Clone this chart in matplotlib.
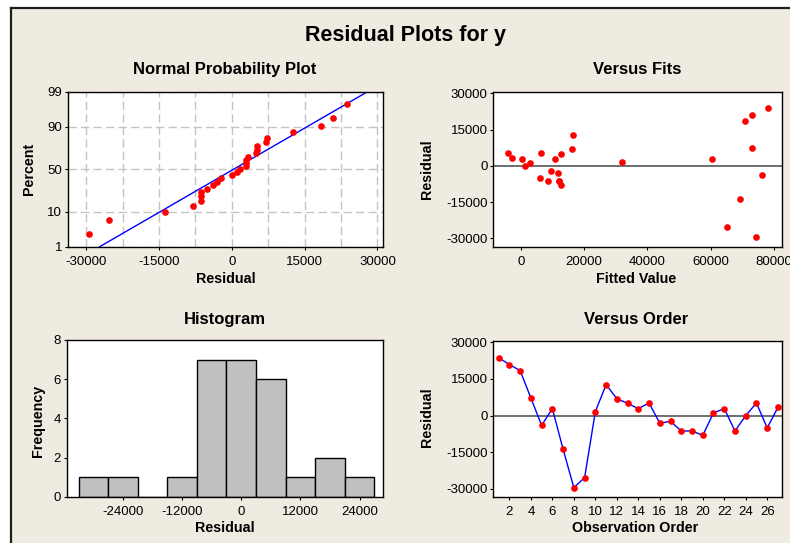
import matplotlib
matplotlib.use('Agg')
import numpy as np
import matplotlib.pyplot as plt
from matplotlib.patches import Rectangle
from matplotlib.lines import Line2D
from statistics import NormalDist

# residuals in observation order
residuals = [23727, 20900, 18409, 7200, -3955, 2864, -13773, -29454, -25364, 1636,
             12682, 6955, 5045, 2864, 5182, -3100, -2318, -6273, -6273, -8045,
             1091, 2900, -6273, 0, 5182, -5045, 3409]
# fitted values for the same observations (Versus Fits panel)
fits = [78000, 73150, 70850, 73150, 76100, 60500, 69250, 74400, 65150, 31900,
        16500, 16100, 12650, 10950, 6400, 11800, 9600, 8650, 12000, 12650,
        3050, 400, 12250, 1350, -3900, 6000, -2650]
order = list(range(1, len(residuals) + 1))

hist_edges = [-33000, -27000, -21000, -15000, -9000, -3000, 3000, 9000, 15000, 21000, 27000]
pct_ticks = [1, 10, 50, 90, 99]
prob_xticks = [-30000, -15000, 0, 15000, 30000]
prob_xgrid = [-30000, -22500, -15000, -7500, 0, 7500, 15000, 22500, 30000]
res_yticks = [-30000, -15000, 0, 15000, 30000]
fit_xticks = [0, 20000, 40000, 60000, 80000]
hist_xticks = [-24000, -12000, 0, 12000, 24000]
hist_yticks = [0, 2, 4, 6, 8]
order_xticks = [2, 4, 6, 8, 10, 12, 14, 16, 18, 20, 22, 24, 26]

plt.rcParams['font.family'] = ['Liberation Sans', 'DejaVu Sans']
plt.rcParams['axes.unicode_minus'] = False

W, H = 790, 543
fig = plt.figure(figsize=(W / 100, H / 100), dpi=100)
fig.patch.set_facecolor('white')

# beige minitab panel with dark top/left border
top = 1 - 7.5 / H
fig.add_artist(Rectangle((11 / W, 0), 1, top, transform=fig.transFigure,
                         facecolor='#EFEBE1', edgecolor='none', zorder=-10))
fig.add_artist(Line2D([11 / W, 1], [top, top], color='#1e1e1e', lw=1.6, transform=fig.transFigure))
fig.add_artist(Line2D([11 / W, 11 / W], [0, top], color='#1e1e1e', lw=1.6, transform=fig.transFigure))


def px_axes(l, r, t, b):
    ax = fig.add_axes([l / W, 1 - b / H, (r - l) / W, (b - t) / H])
    ax.set_facecolor('white')
    for s in ax.spines.values():
        s.set_linewidth(1.0)
        s.set_color('black')
    ax.tick_params(direction='out', length=2.5, width=0.8, labelsize=9.5,
                   top=False, right=False, colors='black')
    ax.tick_params(axis='x', pad=4)
    ax.tick_params(axis='y', pad=1.5)
    return ax


def ftext(x, y, s, **kw):
    fig.text(x / W, 1 - y / H, s, **kw)


RED = '#FF0000'
MS = 4.8
nd = NormalDist()

# ---- normal probability plot
ax1 = px_axes(67.7, 383.3, 91.7, 246.7)
srt = np.sort(np.array(residuals, dtype=float))
n = len(srt)
zs = [nd.inv_cdf((i - 0.3) / (n + 0.4)) for i in range(1, n + 1)]
mu = np.mean(srt)
sd = np.std(srt, ddof=1)
zlim = [nd.inv_cdf(0.01), nd.inv_cdf(0.99)]
ax1.plot([mu + sd * z for z in zlim], zlim, color='#0000FF', lw=1.0, zorder=2)
ax1.plot(srt, zs, 'o', color=RED, ms=MS, mew=0, zorder=3)
ax1.set_xlim(-33800, 31200)
ax1.set_ylim(zlim)
ax1.set_xticks(prob_xticks)
ax1.set_xticks(prob_xgrid, minor=True)
ax1.set_yticks([nd.inv_cdf(p / 100) for p in pct_ticks])
ax1.set_yticklabels([str(p) for p in pct_ticks])
ax1.tick_params(which='minor', length=0)
ax1.grid(True, which='both', axis='x', color='#C4C4C4', ls=(0, (6, 3)), lw=1.0)
ax1.grid(True, which='major', axis='y', color='#C4C4C4', ls=(0, (6, 3)), lw=1.0)
ax1.set_axisbelow(True)

# ---- versus fits
ax2 = px_axes(493.3, 782.3, 92, 246.7)
ax2.axhline(0, color='#555555', lw=1.2, zorder=1)
ax2.plot(fits, residuals, 'o', color=RED, ms=MS, mew=0, zorder=3)
ax2.set_xlim(-8650, 82600)
ax2.set_ylim(-33450, 30550)
ax2.set_xticks(fit_xticks)
ax2.set_yticks(res_yticks)

# ---- histogram
ax3 = px_axes(66.7, 383.3, 340, 496.7)
ax3.hist(residuals, bins=hist_edges, color='#C0C0C0', edgecolor='black', lw=1.0)
ax3.set_xlim(-35400, 28800)
ax3.set_ylim(0, 8)
ax3.set_xticks(hist_xticks)
ax3.set_yticks(hist_yticks)

# ---- versus order
ax4 = px_axes(493.3, 781.7, 341, 497.3)
ax4.axhline(0, color='#555555', lw=1.2, zorder=1)
ax4.plot(order, residuals, '-', color='#0000FF', lw=1.0, zorder=2)
ax4.plot(order, residuals, 'o', color=RED, ms=MS, mew=0, zorder=3)
ax4.set_xlim(0.5, 27.35)
ax4.set_ylim(-33400, 30530)
ax4.set_xticks(order_xticks)
ax4.set_yticks(res_yticks)

# ---- texts
ftext(406, 40.7, 'Residual Plots for y', ha='center', va='baseline',
      fontsize=15.5, fontweight='bold')
tkw = dict(ha='center', va='baseline', fontsize=12, fontweight='bold')
ftext(224.5, 74, 'Normal Probability Plot', **tkw)
ftext(636.7, 74, 'Versus Fits', **tkw)
ftext(224.7, 324, 'Histogram', **tkw)
ftext(636, 324, 'Versus Order', **tkw)

lkw = dict(ha='center', va='center', fontsize=10.3, fontweight='bold')
ftext(225.5, 279, 'Residual', **lkw)
ftext(636.5, 279, 'Fitted Value', **lkw)
ftext(225.3, 528, 'Residual', **lkw)
ftext(635.3, 528, 'Observation Order', **lkw)
ftext(29, 169, 'Percent', rotation=90, **lkw)
ftext(426.5, 169, 'Residual', rotation=90, **lkw)
ftext(37.5, 421, 'Frequency', rotation=90, **lkw)
ftext(426.5, 417, 'Residual', rotation=90, **lkw)

fig.savefig('out.png', dpi=100)
